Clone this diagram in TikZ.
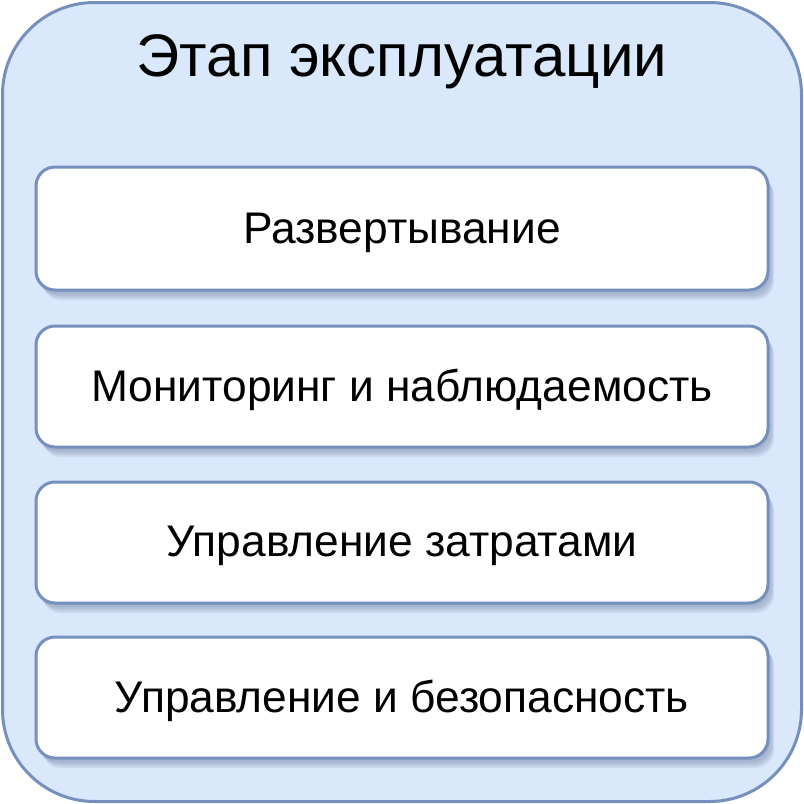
\documentclass[tikz,border=0pt]{standalone}
\usepackage{fontspec}
\setmainfont{Liberation Sans}
\definecolor{outerfill}{HTML}{DAE8FC}
\definecolor{edgeblue}{HTML}{7590BC}
\definecolor{shadowcol}{HTML}{5A6E90}
\tikzset{
  outerbox/.style={draw=edgeblue, line width=3pt, fill=outerfill, rounded corners=92pt},
  softshadow/.style={preaction={fill=shadowcol, opacity=0.12, transform canvas={shift={(#1)}}}},
  itembox/.style={draw=edgeblue, line width=3pt, fill=white, rounded corners=19pt,
    softshadow={6pt,-10pt}, softshadow={5pt,-8pt}, softshadow={4pt,-6pt}, softshadow={2pt,-4pt}},
  itemtext/.style={font=\fontsize{44.3}{50}\selectfont, text=black},
  titletext/.style={font=\fontsize{60}{66}\selectfont, text=black}
}
\begin{document}
\begin{tikzpicture}[x=1pt,y=-1pt]
\useasboundingbox (0,0) rectangle (804,804);
\draw[outerbox] (2.5,2.5) rectangle (801.5,801.5);
\node[titletext] (title) at (402,62) {Этап эксплуатации};
\draw[itembox] (36,167) rectangle (768,290);
\node[itemtext] (t1) at (402,233) {Развертывание};
\draw[itembox] (36,326) rectangle (768,447);
\node[itemtext] (t2) at (402,390) {Мониторинг и наблюдаемость};
\draw[itembox] (36,482) rectangle (768,603);
\node[itemtext] (t3) at (402,546) {Управление затратами};
\draw[itembox] (36,637) rectangle (768,758);
\node[itemtext] (t4) at (402,701) {Управление и безопасность};
\end{tikzpicture}
\end{document}
